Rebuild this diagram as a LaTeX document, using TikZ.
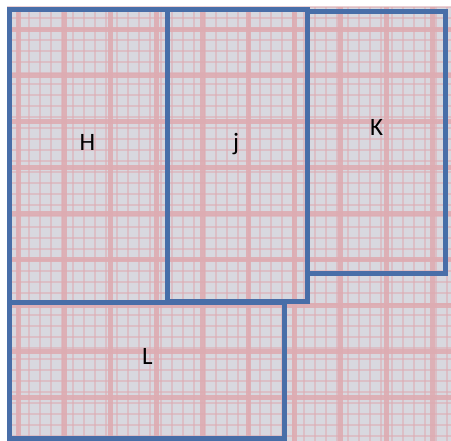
\documentclass[tikz,border=0pt]{standalone}
\usepackage{fontspec}
\setmainfont{Carlito}
\definecolor{cellc}{RGB}{216,216,223}
\definecolor{pinkc}{RGB}{222,172,178}
\definecolor{bluec}{RGB}{72,110,168}
\tikzset{
  box/.style={draw=bluec, line width=5pt, line join=miter},
  lbl/.style={font=\fontsize{25}{25}\selectfont, anchor=base, inner sep=0pt},
  thin/.style={draw=pinkc, line width=1.6pt, draw opacity=0.55},
  thick/.style={draw=pinkc, line width=5pt, draw opacity=0.9},
}
\begin{document}
\begin{tikzpicture}[x=1pt,y=-1pt]
\useasboundingbox (0,0) rectangle (451,441);
\fill[white] (0,0) rectangle (451,441);
\fill[cellc] (7,7) rectangle (451,441);
\begin{scope}
\clip (7,7) rectangle (451,441);
\foreach \i in {0,...,40} {
  \draw[thin] (7+11*\i,7) -- (7+11*\i,441);
  \draw[thin] (7,7+11*\i) -- (451,7+11*\i);
}
\foreach \i in {0,...,10} {
  \draw[thick] (18+46*\i,7) -- (18+46*\i,441);
  \draw[thick] (7,30+46*\i) -- (451,30+46*\i);
}
\end{scope}
\draw[box] (9.5,10) rectangle (167,302.5);
\draw[box] (167,10) rectangle (307,302);
\draw[box] (307.5,12) rectangle (445,274);
\draw[box] (9.5,302.5) rectangle (284.5,439);
\node[lbl] (H) at (87.5,150.5) {H};
\node[lbl] (J) at (236,150.5) {j};
\node[lbl] (K) at (376.5,136) {K};
\node[lbl] (L) at (147.5,365) {L};
\end{tikzpicture}
\end{document}
